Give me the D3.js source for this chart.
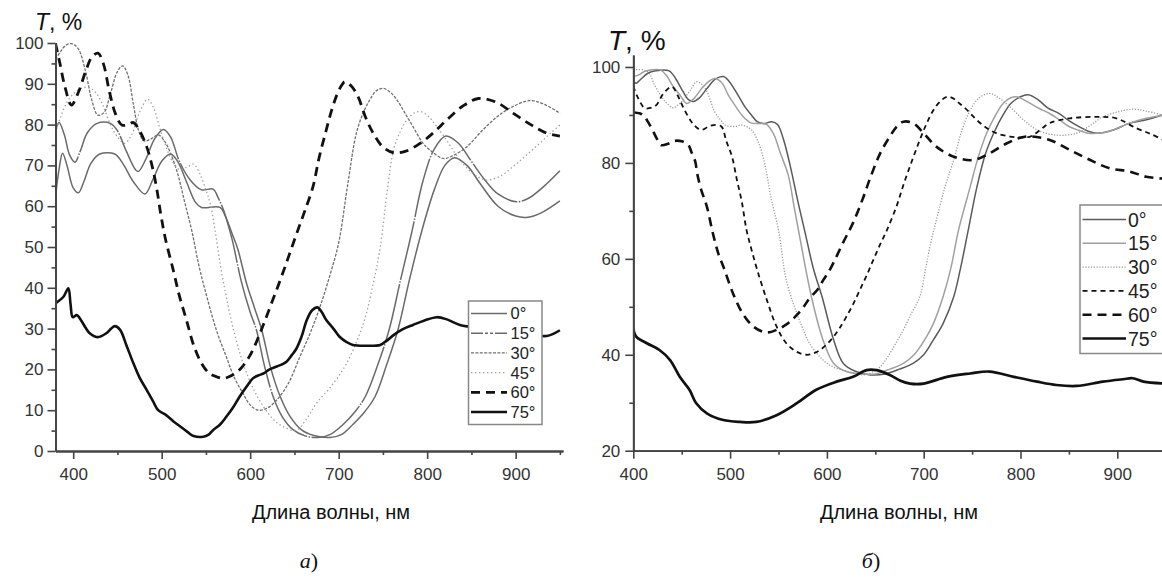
<!DOCTYPE html>
<html><head><meta charset="utf-8">
<script src="https://cdn.jsdelivr.net/npm/d3@7"></script>
<style>body{margin:0;background:#fff}svg{display:block}</style>
</head><body>
<svg id="c" width="1162" height="579"></svg>
<script>
// ---------- DATA ----------
const angles = ["0°","15°","30°","45°","60°","75°"];

// Panel a) : [wavelength nm, T %]
const a0 = [[380,62.3],[384,69],[388,73],[393,70],[400,64.5],[406,63.3],[412,66],[420,70.5],[430,72.8],[447,72.8],[456,70.5],[468,66],[481,63],[490,66.5],[500,71],[510,72.8],[518,71],[528,66],[538,61],[545,59.7],[566,59.7],[572,57.5],[580,53],[586,49.5],[596,41],[605,35],[613,29.7],[623,20.5],[634,13.3],[645,8.5],[658,5.2],[672,3.8],[690,3.3],[703,4],[716,6.5],[729,9.5],[741,13.3],[754,21],[767,29.7],[780,42],[794,54],[808,64],[820,70],[831,71.9],[845,70],[860,65.5],[880,60],[900,57.6],[914,57.3],[930,58.5],[950,61.3]];
const a15 = [[380,78.3],[384,80.5],[390,77.5],[396,72.5],[402,70.8],[408,73.5],[416,78],[427,80.3],[442,80.3],[450,78.5],[460,73.5],[473,68.5],[482,71.5],[492,76.5],[502,78.8],[510,77],[520,71],[532,66.5],[545,64],[558,64.2],[564,62],[570,59],[575,55.5],[580,51.5],[590,41.5],[600,34],[607,29.7],[616,21],[626,13.3],[636,8.5],[648,5.3],[662,3.7],[677,3.3],[690,4],[705,6.5],[718,9.5],[730,13.3],[744,21],[757,29.7],[770,42],[783,54],[795,66],[808,74],[821,77.2],[835,75.5],[850,71],[865,66.5],[880,63],[901,61.1],[915,62],[930,64.5],[950,68.7]];
const a30 = [[380,96],[386,98],[392,99.5],[399,99.8],[406,98.5],[414,93],[421,86],[428,82.3],[435,83],[442,87.5],[450,93],[456,94.4],[462,92],[468,85],[474,78.5],[480,76],[488,76.5],[496,77.5],[503,76],[510,73],[518,68],[526,61],[534,54],[542,45.5],[551,37.8],[562,29.5],[573,23.1],[582,18],[592,14.1],[600,11.3],[609,10],[620,10.6],[630,12.5],[643,16.5],[656,23],[668,29],[679,35.4],[690,43],[700,51],[710,65],[720,77.9],[728,83],[735,86],[742,88.2],[750,88.9],[758,88],[766,86],[775,82.8],[784,79.5],[795,75.5],[803,73.8],[818,71.7],[830,72.5],[845,74.6],[862,78.5],[879,81.9],[895,84.2],[916,85.9],[932,85],[950,82.8]];
const a45 = [[380,78],[386,82],[393,85.5],[400,87.5],[408,88.8],[417,89.1],[425,88],[433,85],[442,80],[450,77],[458,75.4],[466,77.5],[474,82.5],[484,86.2],[491,84],[498,79],[505,74.5],[512,71],[520,69],[528,69.5],[536,70.3],[543,68],[550,64],[555,60.5],[560,54.5],[566,46],[573,37.8],[582,29],[592,21.5],[603,15.5],[615,10.9],[626,7.8],[637,6],[652,5.1],[664,8],[675,11.7],[692,16],[709,21.5],[728,31.3],[738,40],[747,50],[755,64],[762,73.8],[770,78.5],[777,81.1],[785,82.8],[792,83.2],[800,82.3],[811,79.5],[824,75.5],[837,71.3],[852,68],[867,66.4],[882,67.3],[897,69.7],[912,72.5],[927,75.4],[940,78],[950,79.9]];
const a60 = [[380,99.9],[385,95],[391,89],[398,84.8],[406,88],[414,93],[421,96.5],[428,97.5],[434,95],[441,88],[448,82.5],[455,79.9],[462,80],[468,80.5],[475,78.5],[483,74.6],[489,70],[494,64.8],[499,58],[504,52.2],[513,44.4],[520,38],[528,32.1],[536,26],[545,21.5],[554,19],[562,18.2],[570,17.8],[579,18.5],[588,19.9],[600,23.5],[611,28.8],[622,35],[634,41.9],[644,48],[654,54.2],[662,59],[671,64.8],[678,72],[686,78.7],[692,83.5],[698,87.3],[703,89.5],[707,90.5],[714,89.5],[722,86.8],[730,82],[739,77.9],[750,74.5],[762,73.1],[776,73.5],[792,75.4],[807,78],[822,81.1],[840,84.5],[858,86.4],[878,85.5],[897,82.8],[917,80],[935,77.9],[950,77.2]];
const a75 = [[380,36.2],[389,37.8],[394.5,39.9],[397,36],[399.5,32.8],[404,33.3],[409,32],[414,30.2],[419,28.8],[428,27.9],[437,28.8],[443,30],[447,30.6],[453,29.7],[460,26],[468,21.5],[475,18],[483,15],[490,12.3],[496,10],[505,8.8],[513,7.3],[521,6],[529,4.7],[536,3.7],[547,3.5],[553,4],[558,5.1],[566,6.5],[573,8.4],[581,10.8],[588,13.3],[596,15.8],[603,17.8],[609,18.5],[615,19],[622,20],[630,20.7],[641,21.9],[647,23.5],[652,25],[658,28],[664,32.1],[670,34.5],[676,35.2],[681,34],[686,32.1],[694,30],[701,28],[709,26.7],[716,26],[730,25.8],[747,26],[754,27],[762,28.4],[772,29.8],[784,30.9],[797,32],[811,32.8],[823,32.2],[837,30.9],[855,30.3],[880,29.6],[905,29],[935,28.2],[950,29.6]];

// Panel б) : [wavelength nm, T %]
const b0 = [[400,97],[403,96.6],[408,97.5],[415,98.7],[423,99.2],[437,99.2],[444,97.5],[451,95],[457,93.2],[462,92.8],[468,93.5],[476,95.5],[485,97.5],[493,98],[499,97],[508,94.2],[515,91.8],[522,90],[528,88.6],[535,88.2],[543,88.6],[549,88],[555,85],[562,79.5],[570,72],[578,65],[586,58],[595,52.1],[607,43.1],[617,38.2],[630,36.5],[645,35.8],[660,36],[675,37],[689,38.2],[700,40],[710,43.1],[720,46.5],[731,52.1],[738,58],[746,66],[755,75],[764,82],[773,86.5],[782,90],[790,92.4],[800,93.8],[808,94.2],[818,93.2],[828,91.5],[840,90.3],[850,88.8],[860,87.6],[870,86.6],[880,86.2],[895,86.8],[913,88.3],[930,89],[950,90.2]];
const b15 = [[400,98],[405,98.3],[411,99],[419,99.4],[428,99.4],[435,98],[441,96],[448,94.2],[455,92.4],[462,93.3],[471,95.6],[478,97],[484,97.6],[491,96.8],[498,94.2],[505,92],[512,90],[518,88.8],[522,88.3],[533,88.2],[538,88],[545,86],[552,82],[560,77.5],[566,71],[572,64.5],[584,52.1],[596,43.1],[607,38.2],[620,36.5],[635,36],[650,36],[665,37],[679,38.2],[690,40],[701,43.1],[710,46.5],[720,52.1],[728,58],[736,66],[748,75],[756,81],[765,86.2],[773,89.5],[782,92.4],[790,93.6],[796,93.8],[805,93],[818,91.5],[830,90.3],[840,89],[850,87.6],[860,86.8],[870,86.2],[890,86.5],[913,88.3],[930,89.3],[950,90.1]];
const b30 = [[400,99.4],[410,99.4],[416,98.8],[422,96.2],[427,94.5],[433,92.8],[441,91.5],[447,92.2],[453,93.5],[460,95.5],[465,96.9],[470,96.5],[476,94.9],[480,92.8],[484,90.7],[490,89],[495,87.9],[505,87.6],[512,87.9],[522,86.9],[529,84.4],[536,79.6],[542,73],[550,66],[558,55.6],[569,48.6],[575,45.5],[582,42.4],[596,38.9],[606,37.5],[617,36.8],[628,36.2],[638,35.8],[648,36.5],[655,37.5],[662,39.3],[670,42],[679,45.2],[687,48.5],[696,52.1],[702,58],[708,64],[713,68],[722,75],[731,80.6],[739,86.5],[748,91],[757,93.5],[768,94.5],[778,93.5],[789,91.7],[803,89],[817,86.9],[837,85.8],[858,86.2],[872,87.8],[885,89.6],[900,90.6],[916,91.2],[930,90.8],[950,89.8]];
const b45 = [[400,96],[405,93.5],[412,91.4],[418,91.5],[424,92.1],[428,93.5],[433,94.9],[440,95.9],[446,94],[452,91.4],[460,88.6],[466,87.3],[471,86.9],[477,87.5],[483,87.9],[491,87.6],[496,84.6],[502,81.3],[507,76.5],[512,72],[517,66],[522,62],[528,57.7],[538,51.4],[548,45.9],[558,42.4],[569,40.6],[579,40],[586,40.3],[593,41],[600,42.2],[607,43.8],[613,45.5],[620,47.9],[627,50.5],[634,53.5],[641,56.5],[648,59.8],[655,63],[662,66],[672,71],[680,76],[688,80.5],[696,84.8],[703,88.2],[710,91],[717,92.8],[724,93.8],[730,93.5],[737,92.4],[746,90.8],[755,88.9],[765,87.3],[775,86.2],[789,85.5],[800,85.3],[810,85.5],[820,86.8],[830,88.3],[851,89.3],[879,89.6],[899,89.3],[920,87.2],[935,86],[950,84.5]];
const b60 = [[400,90.5],[407,90.3],[411,89.8],[415,88.6],[420,86.8],[425,84.8],[429,83.7],[436,84],[443,84.6],[450,84.5],[457,83.7],[460,82.3],[464,80.3],[466,77.8],[470,74.5],[476,70.9],[482,65.5],[488,61],[493,58.4],[503,52.8],[513,48.6],[524,45.9],[534,44.8],[541,44.7],[548,45.2],[555,45.9],[562,46.9],[569,48.3],[576,50],[582,51.8],[590,53.5],[596,55.5],[603,57.7],[617,63.5],[627,67.5],[637,72.5],[645,77],[655,82],[665,85.5],[672,87.5],[679,88.6],[689,88.3],[700,86.2],[713,83.4],[731,81.3],[751,80.6],[768,82],[786,84.1],[806,85.5],[830,84.8],[851,82.7],[872,80.6],[892,78.9],[913,78.2],[930,77.1],[950,76.7]];
const b75 = [[400,45.5],[403,43.8],[414,42.4],[427,41],[438,38.9],[448,35.4],[458,32.7],[465,29.9],[476,27.8],[493,26.4],[510,26],[527,26],[548,27.4],[569,29.9],[589,32.7],[610,34.4],[627,35.4],[641,36.8],[651,36.8],[665,35.8],[676,34.6],[686,34],[700,34],[724,35.4],[748,36.1],[768,36.5],[793,35.4],[817,34.4],[837,33.7],[858,33.5],[885,34.4],[906,34.9],[916,35.1],[927,34.4],[950,34]];

const seriesA = [a0, a15, a30, a45, a60, a75];
const seriesB = [b0, b15, b30, b45, b60, b75];

const xTicksMajor = [400,500,600,700,800,900];
const xTicksMinor = [450,550,650,750,850,950];
const yTicksA = [0,10,20,30,40,50,60,70,80,90,100];
const yTicksAMinor = [5,15,25,35,45,55,65,75,85,95];
const yTicksB = [20,40,60,80,100];
const yTicksBMinor = [30,50,70,90];

// ---------- STYLES ----------
const styleA = [
  {c:"#6a6a6a", w:1.5, d:null},
  {c:"#6a6a6a", w:1.5, d:"60,1.5,1.5,1.5", ld:"12,2,3,2,3,2"},
  {c:"#707070", w:1.3, d:"3,1.4"},
  {c:"#a0a0a0", w:1.3, d:"1.4,2.6"},
  {c:"#111", w:2.8, d:"9,6"},
  {c:"#111", w:2.6, d:null}
];
const styleB = [
  {c:"#5a5a5a", w:1.5, d:null},
  {c:"#a0a0a0", w:1.5, d:null},
  {c:"#9a9a9a", w:1.3, d:"1.2,1.6"},
  {c:"#111", w:1.8, d:"5,4"},
  {c:"#111", w:2.6, d:"9,6"},
  {c:"#111", w:2.7, d:null}
];

const svg = d3.select("#c");
const FONT = "'Liberation Sans', Arial, sans-serif";

function panel(o){
  const g = svg.append("g");
  const x = d3.scaleLinear().domain(o.xd).range(o.xr);
  const y = d3.scaleLinear().domain(o.yd).range(o.yr);
  const id = "clip"+o.key;
  svg.append("defs").append("clipPath").attr("id",id).append("rect")
    .attr("x",o.xr[0]).attr("y",o.yr[1]-2).attr("width",o.xr[1]-o.xr[0]).attr("height",o.yr[0]-o.yr[1]+2);

  const line = d3.line().x(d=>x(d[0])).y(d=>y(d[1])).curve(d3.curveCatmullRom.alpha(0.5));
  const lg = g.append("g").attr("clip-path","url(#"+id+")");
  o.series.forEach((s,i)=>{
    const st = o.styles[i];
    lg.append("path").attr("d",line(s)).attr("fill","none")
      .attr("stroke",st.c).attr("stroke-width",st.w)
      .attr("stroke-dasharray",st.d).attr("stroke-linejoin","round");
  });

  const ax = (sel)=>{ sel.attr("color","#444").attr("font-family",FONT).attr("font-size",o.fs);
    sel.selectAll(".domain").attr("stroke-width",1.8);
    sel.selectAll(".tick line").attr("stroke-width",1.6);
    sel.selectAll(".tick text").attr("fill","#333"); };
  g.append("g").attr("transform",`translate(0,${o.yr[0]})`)
    .call(d3.axisBottom(x).tickValues(xTicksMinor).tickSize(4).tickSizeOuter(0).tickFormat(""))
    .call(ax);
  g.append("g").attr("transform",`translate(0,${o.yr[0]})`)
    .call(d3.axisBottom(x).tickValues(xTicksMajor).tickSize(8).tickSizeOuter(0).tickPadding(9))
    .call(ax);
  g.append("g").attr("transform",`translate(${o.xr[0]},0)`)
    .call(d3.axisLeft(y).tickValues(o.yMinor).tickSize(4).tickSizeOuter(0).tickFormat(""))
    .call(ax);
  g.append("g").attr("transform",`translate(${o.xr[0]},0)`)
    .call(d3.axisLeft(y).tickValues(o.yMajor).tickSize(8).tickSizeOuter(0).tickPadding(o.ypad))
    .call(ax);

  const L = o.leg;
  const lgd = g.append("g");
  lgd.append("rect").attr("x",L.x).attr("y",L.y).attr("width",L.w).attr("height",L.h)
    .attr("fill","#fff").attr("stroke","#888").attr("stroke-width",1.5);
  angles.forEach((a,i)=>{
    const yy = L.y0 + i*L.dy, st = o.styles[i];
    lgd.append("line").attr("x1",L.lx0).attr("x2",L.lx1).attr("y1",yy).attr("y2",yy)
      .attr("stroke",st.c).attr("stroke-width",st.w).attr("stroke-dasharray",st.ld || st.d);
    lgd.append("text").attr("x",L.tx).attr("y",yy).attr("dy","0.36em")
      .attr("font-family",FONT).attr("font-size",L.fs).attr("fill","#222").text(a);
  });

  const t = g.append("text").attr("x",o.tT[0]).attr("y",o.tT[1]).attr("font-family",FONT)
    .attr("font-size",o.tT[2]).attr("fill","#111");
  t.append("tspan").attr("font-style","italic").text("T");
  t.append("tspan").text(", %");
  g.append("text").attr("x",o.xt[0]).attr("y",o.xt[1]).attr("text-anchor","middle")
    .attr("font-family",FONT).attr("font-size",20).attr("fill","#111").text("Длина волны, нм");
  const cap = g.append("text").attr("x",o.cap[0]).attr("y",o.cap[1]).attr("text-anchor","middle")
    .attr("font-family","'Liberation Serif','Times New Roman',serif").attr("font-size",22).attr("fill","#111");
  cap.append("tspan").attr("font-style","italic").text(o.cap[2]);
  cap.append("tspan").text(")");
}

panel({key:"a", series:seriesA, styles:styleA,
  xd:[380,953.5], xr:[55.5,563], yd:[0,100], yr:[451,43],
  yMajor:yTicksA, yMinor:yTicksAMinor, fs:17, ypad:4,
  leg:{x:468.5,y:301,w:73.5,h:123.5,y0:313.5,dy:19.7,lx0:471,lx1:507,tx:510.5,fs:16.5},
  tT:[35,30,23], xt:[331,519], cap:[309,568,"а"]});

panel({key:"b", series:seriesB, styles:styleB,
  xd:[400,950], xr:[633.3,1165.7], yd:[20,102.5], yr:[450.7,55],
  yMajor:yTicksB, yMinor:yTicksBMinor, fs:17, ypad:5,
  leg:{x:1080,y:205,w:90,h:148.5,y0:219.5,dy:23.8,lx0:1082.5,lx1:1126,tx:1128,fs:19.5},
  tT:[608,50,28], xt:[899,519], cap:[871,568,"б"]});
</script>
</body></html>
